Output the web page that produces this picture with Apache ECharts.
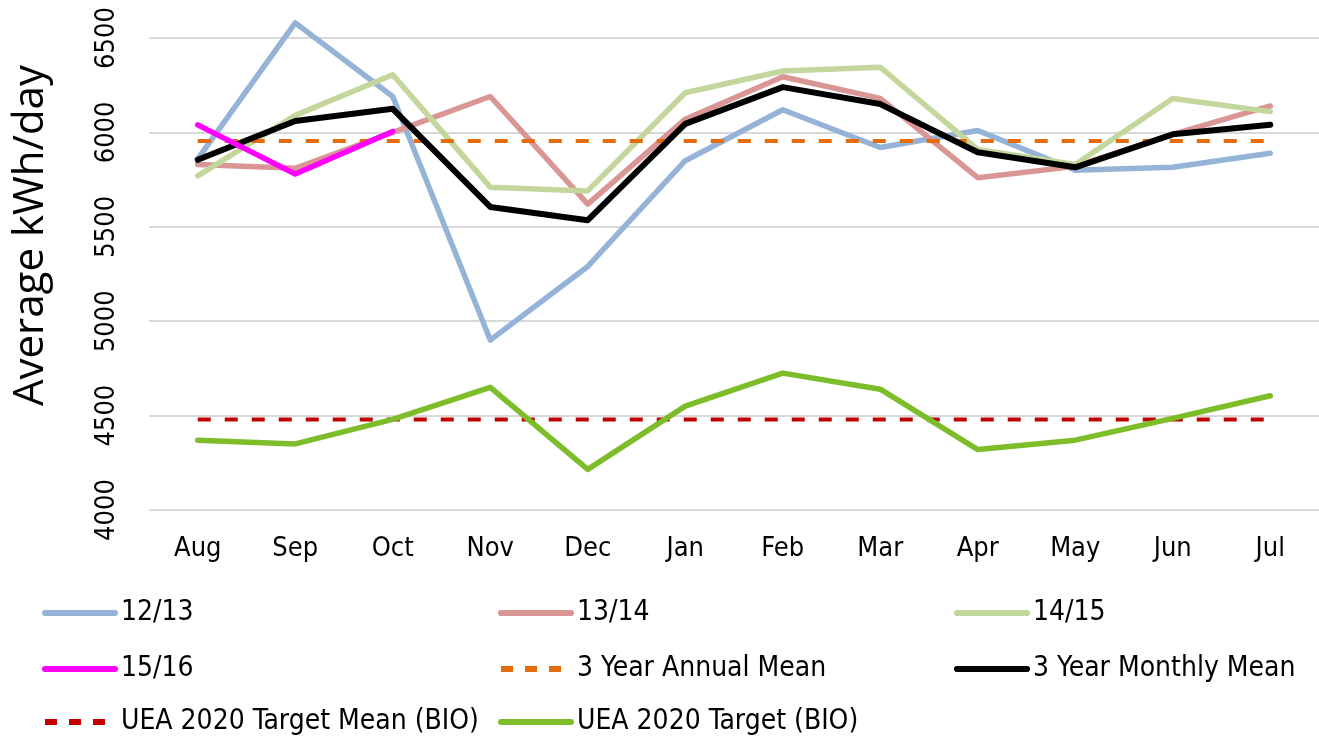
<!DOCTYPE html>
<html>
<head>
<meta charset="utf-8">
<script src="https://cdn.jsdelivr.net/npm/echarts@6/dist/echarts.min.js"></script>
<style>
html,body{margin:0;padding:0;background:#fff;}
#chart{width:1319px;height:737px;}
</style>
</head>
<body>
<div id="chart"></div>
<script>
const months = ['Aug','Sep','Oct','Nov','Dec','Jan','Feb','Mar','Apr','May','Jun','Jul'];
const s1213 = [5860,6580,6190,4900,5290,5850,6120,5920,6010,5800,5815,5890];
const s1314 = [5830,5810,6000,6190,5620,6070,6295,6180,5760,5820,5990,6140];
const s1415 = [5770,6090,6305,5710,5690,6210,6325,6345,5910,5830,6180,6110];
const s1516 = [6040,5780,6005,null,null,null,null,null,null,null,null,null];
const annualMean = [5955,5955,5955,5955,5955,5955,5955,5955,5955,5955,5955,5955];
const monthlyMean = [5855,6060,6125,5605,5535,6045,6240,6150,5895,5815,5990,6040];
const targetMean = [4480,4480,4480,4480,4480,4480,4480,4480,4480,4480,4480,4480];
const target = [4370,4350,4480,4650,4215,4550,4725,4640,4320,4370,4485,4605];
const yTicks = [4000,4500,5000,5500,6000,6500];

const FONT = "'Liberation Sans Narrow','DejaVu Sans Condensed',sans-serif";

const seriesDefs = [
  { name: '12/13', data: s1213, color: '#95B3D7', width: 5.5 },
  { name: '13/14', data: s1314, color: '#D99694', width: 5.5 },
  { name: '14/15', data: s1415, color: '#C3D69B', width: 5.5 },
  { name: '15/16', data: s1516, color: '#FF00FF', width: 5.5, z: 4 },
  { name: '3 Year Annual Mean', data: annualMean, color: '#E46C0A', width: 4, dashed: true },
  { name: '3 Year Monthly Mean', data: monthlyMean, color: '#000000', width: 6, z: 3 },
  { name: 'UEA 2020 Target Mean (BIO)', data: targetMean, color: '#C00000', width: 4, dashed: true },
  { name: 'UEA 2020 Target (BIO)', data: target, color: '#7DBD2A', width: 5.5 }
];

// legend grid: [name, left, rowCenterY]
const legendPos = [
  ['12/13', 42, 611], ['13/14', 498, 611], ['14/15', 954, 611],
  ['15/16', 42, 667], ['3 Year Annual Mean', 498, 667], ['3 Year Monthly Mean', 954, 667],
  ['UEA 2020 Target Mean (BIO)', 42, 720], ['UEA 2020 Target (BIO)', 498, 720]
];

const legends = legendPos.map(function (p) {
  const def = seriesDefs.find(function (d) { return d.name === p[0]; });
  return {
    data: [p[0]], left: p[1], top: p[2] - 12, orient: 'horizontal',
    itemWidth: 70, itemHeight: 14, padding: 0,
    itemStyle: { opacity: 0 },
    lineStyle: { width: 6, type: def.dashed ? [12, 12] : 'solid', cap: def.dashed ? 'butt' : 'round' },
    textStyle: { fontFamily: FONT, fontSize: 28, color: '#000', padding: [0, 0, 0, 1] }
  };
});

const chart = echarts.init(document.getElementById('chart'), null, { renderer: 'canvas' });
chart.setOption({
  animation: false,
  backgroundColor: '#fff',
  grid: { left: 149, top: 38, width: 1176, height: 472, containLabel: false },
  xAxis: {
    type: 'category', data: months, boundaryGap: true,
    axisLine: { show: false }, axisTick: { show: false },
    axisLabel: { fontFamily: FONT, fontSize: 27, color: '#000', margin: 25 }
  },
  yAxis: {
    type: 'value', min: yTicks[0], max: yTicks[yTicks.length - 1], interval: 500,
    axisLine: { show: false }, axisTick: { show: false },
    splitLine: { lineStyle: { color: '#D9D9D9', width: 2 } },
    axisLabel: { fontFamily: FONT, fontSize: 27, color: '#000', rotate: 90, margin: 29,
      formatter: function (v) { return String(v); } }
  },
  graphic: [{
    type: 'text', left: 10, top: 65, rotation: Math.PI / 2,
    style: { text: 'Average kWh/day', font: "42px 'Open Sans', sans-serif", fill: '#000' }
  }],
  legend: legends,
  series: seriesDefs.map(function (d) {
    return {
      name: d.name, type: 'line', data: d.data, symbol: 'none', clip: false,
      z: d.z || 2,
      lineStyle: { color: d.color, width: d.width, type: d.dashed ? [13, 14] : 'solid',
        cap: d.dashed ? 'butt' : 'round', join: 'round' },
      itemStyle: { color: d.color }
    };
  })
});
</script>
</body>
</html>
